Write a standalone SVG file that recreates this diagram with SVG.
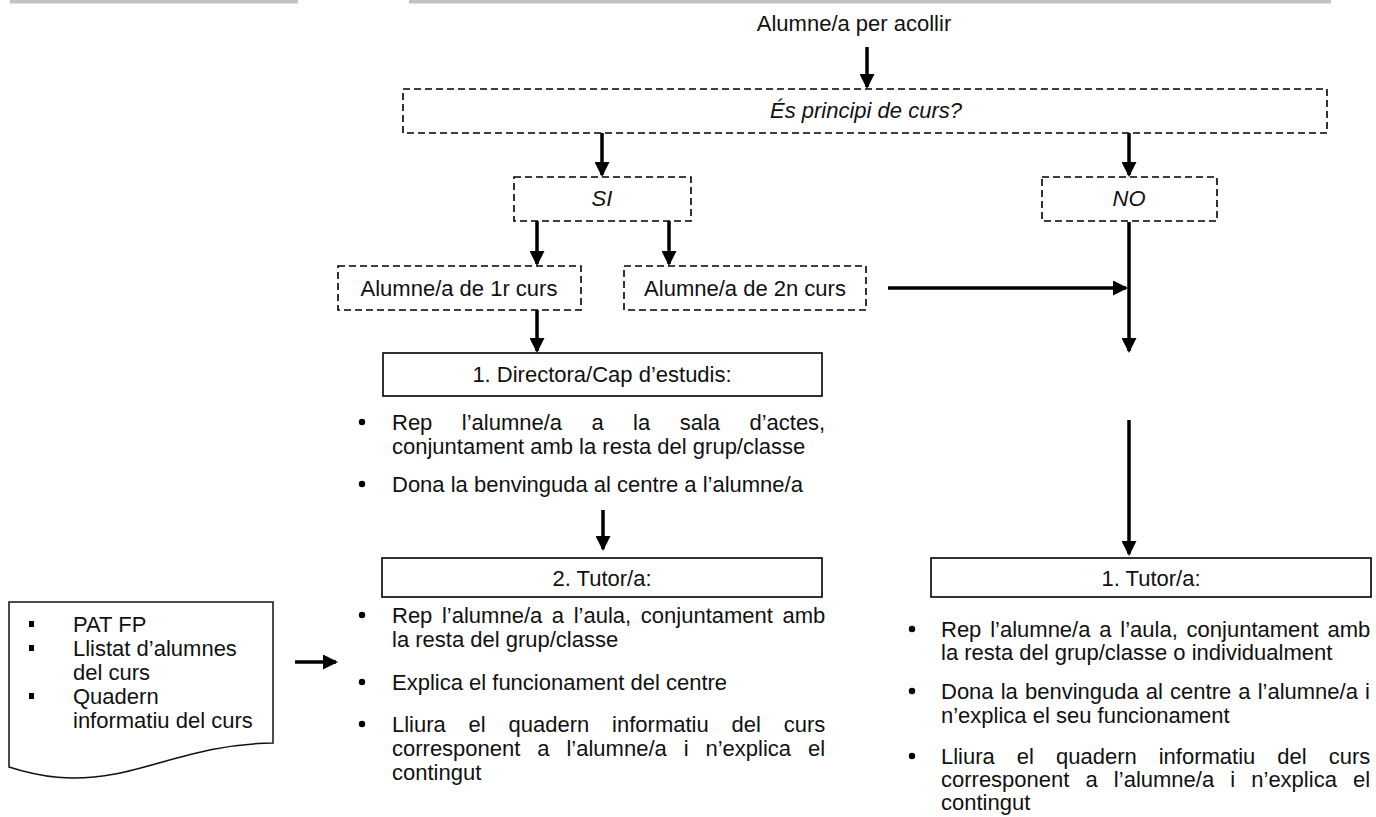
<svg xmlns="http://www.w3.org/2000/svg" width="1376" height="817" viewBox="0 0 1376 817">
<style>
  text { font-family: "Liberation Sans", Arial, sans-serif; font-size: 22px; fill: #111; }
  .c { text-anchor: middle; }
  .i { font-style: italic; }
  .dash { fill: #fff; stroke: #000; stroke-width: 1.6; stroke-dasharray: 7 4; }
  .solid { fill: #fff; stroke: #000; stroke-width: 1.6; }
  .bar { fill: #c3c3c3; }
  .conn { stroke: #000; stroke-width: 3.5; fill: none; marker-end: url(#ah); }
  .dot { fill: #000; }
</style>
<defs>
  <marker id="ah" markerUnits="userSpaceOnUse" markerWidth="15" markerHeight="15" viewBox="0 0 15 15" refX="13" refY="7.5" orient="auto">
    <path d="M0,0 L15,7.5 L0,15 Z" fill="#000"/>
  </marker>
</defs>
<rect width="1376" height="817" fill="#fff"/>
<rect class="bar" x="10" y="0" width="288" height="3.5"/>
<rect class="bar" x="409" y="0" width="922" height="3.5"/>

<g id="connectors">
  <line class="conn" x1="867" y1="47" x2="867" y2="87"/>
  <line class="conn" x1="602" y1="133" x2="602" y2="175"/>
  <line class="conn" x1="1129" y1="133" x2="1129" y2="175"/>
  <line class="conn" x1="537" y1="221" x2="537" y2="264"/>
  <line class="conn" x1="669" y1="221" x2="669" y2="264"/>
  <line class="conn" x1="537" y1="310" x2="537" y2="351"/>
  <line class="conn" x1="888" y1="288" x2="1126" y2="288"/>
  <line class="conn" x1="1129" y1="222" x2="1129" y2="351"/>
  <line class="conn" x1="1129" y1="420" x2="1129" y2="554"/>
  <line class="conn" x1="603" y1="510" x2="603" y2="549"/>
  <line class="conn" x1="295" y1="662" x2="336" y2="662"/>
</g>

<g id="start">
  <text class="c" x="854" y="31">Alumne/a per acollir</text>
</g>

<g id="q-principi">
  <rect class="dash" x="403" y="89" width="924" height="44"/>
  <text class="c i" x="866" y="118">És principi de curs?</text>
</g>

<g id="si">
  <rect class="dash" x="514" y="177" width="177" height="44"/>
  <text class="c i" x="602" y="206">SI</text>
</g>

<g id="no">
  <rect class="dash" x="1042" y="177" width="175" height="44"/>
  <text class="c i" x="1129" y="206">NO</text>
</g>

<g id="primer-curs">
  <rect class="dash" x="338" y="266" width="243" height="44"/>
  <text class="c" x="459" y="296">Alumne/a de 1r curs</text>
</g>

<g id="segon-curs">
  <rect class="dash" x="624" y="266" width="242" height="44"/>
  <text class="c" x="745" y="296">Alumne/a de 2n curs</text>
</g>

<g id="directora">
  <rect class="solid" x="383" y="353" width="439" height="43"/>
  <text class="c" x="602" y="382">1. Directora/Cap d’estudis:</text>
  <circle class="dot" cx="362" cy="422" r="3.2"/>
  <text x="392" y="430" word-spacing="23.3">Rep l’alumne/a a la sala d’actes,</text>
  <text x="392" y="454">conjuntament amb la resta del grup/classe</text>
  <circle class="dot" cx="362" cy="484" r="3.2"/>
  <text x="392" y="492">Dona la benvinguda al centre a l’alumne/a</text>
</g>

<g id="tutor-2">
  <rect class="solid" x="382" y="558" width="440" height="39"/>
  <text class="c" x="602" y="586">2. Tutor/a:</text>
  <circle class="dot" cx="362" cy="615" r="3.2"/>
  <text x="392" y="623" word-spacing="3.5">Rep l’alumne/a a l’aula, conjuntament amb</text>
  <text x="392" y="647">la resta del grup/classe</text>
  <circle class="dot" cx="362" cy="682" r="3.2"/>
  <text x="392" y="690">Explica el funcionament del centre</text>
  <circle class="dot" cx="362" cy="724" r="3.2"/>
  <text x="392" y="732" word-spacing="16.7">Lliura el quadern informatiu del curs</text>
  <text x="392" y="756" word-spacing="10.8">corresponent a l’alumne/a i n’explica el</text>
  <text x="392" y="780">contingut</text>
</g>

<g id="tutor-1">
  <rect class="solid" x="931" y="558" width="440" height="39"/>
  <text class="c" x="1151" y="586">1. Tutor/a:</text>
  <circle class="dot" cx="912" cy="629" r="3.2"/>
  <text x="941" y="637" word-spacing="2.7">Rep l’alumne/a a l’aula, conjuntament amb</text>
  <text x="941" y="660">la resta del grup/classe o individualment</text>
  <circle class="dot" cx="912" cy="691" r="3.2"/>
  <text x="941" y="699" word-spacing="1">Dona la benvinguda al centre a l’alumne/a i</text>
  <text x="941" y="723">n’explica el seu funcionament</text>
  <circle class="dot" cx="912" cy="756" r="3.2"/>
  <text x="941" y="764" word-spacing="15.9">Lliura el quadern informatiu del curs</text>
  <text x="941" y="787" word-spacing="10">corresponent a l’alumne/a i n’explica el</text>
  <text x="941" y="810">contingut</text>
</g>

<g id="documents">
  <path d="M9,602 L273,602 L273,743 C205,744 165,764 115,774 C72,782 40,777 9,767 Z" fill="#fff" stroke="#111" stroke-width="1.5"/>
  <rect class="dot" x="29" y="621" width="5" height="6"/>
  <text x="73" y="632">PAT FP</text>
  <rect class="dot" x="29" y="645" width="5" height="6"/>
  <text x="73" y="656">Llistat d’alumnes</text>
  <text x="73" y="680">del curs</text>
  <rect class="dot" x="29" y="693" width="5" height="6"/>
  <text x="73" y="704">Quadern</text>
  <text x="73" y="728">informatiu del curs</text>
</g>
</svg>
